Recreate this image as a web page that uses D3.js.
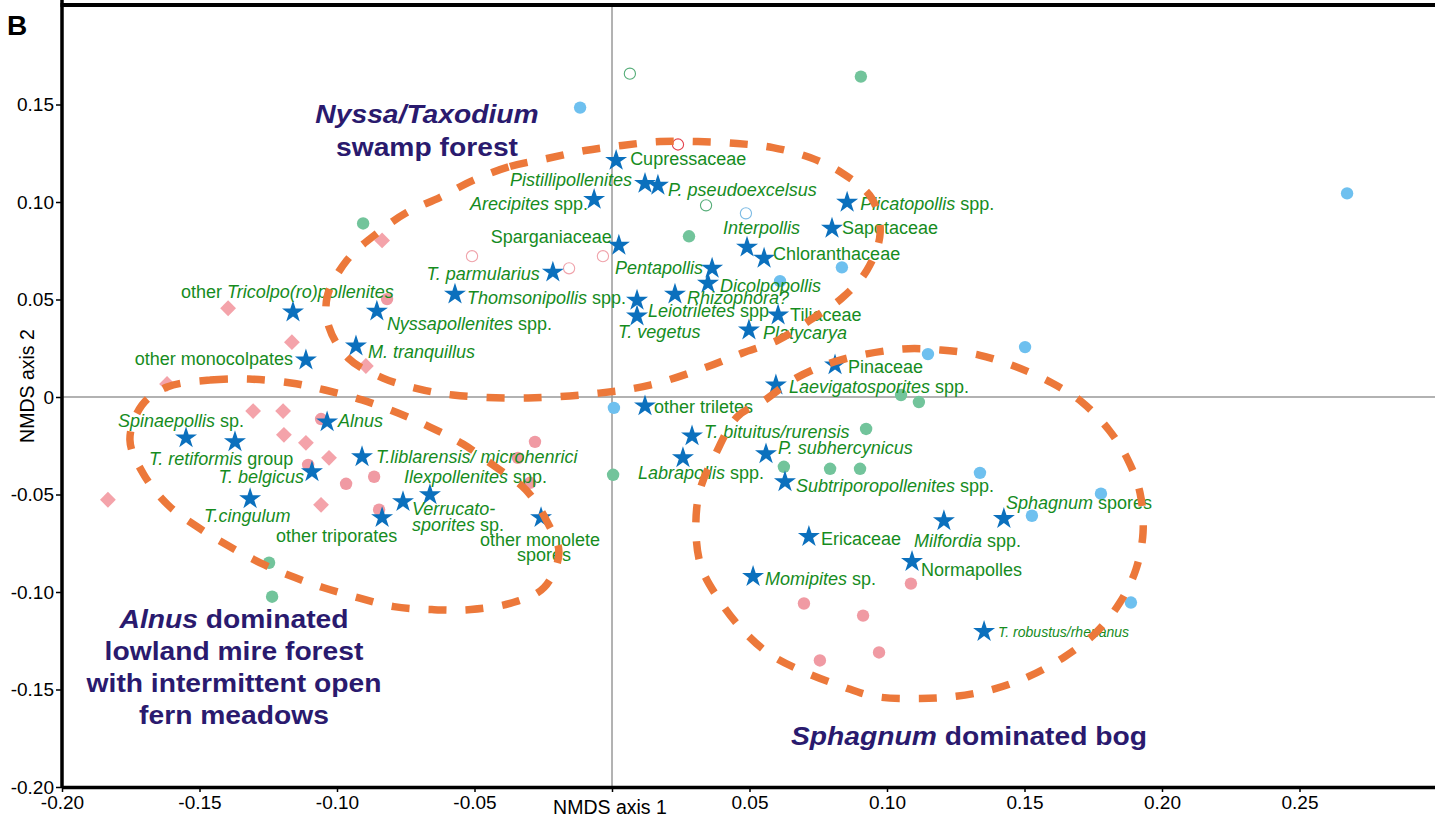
<!DOCTYPE html>
<html>
<head>
<meta charset="utf-8">
<script src="https://cdn.jsdelivr.net/npm/d3@7"></script>
<style>
body { margin: 0; background: #fff; }
svg { display: block; font-family: "Liberation Sans", Arial, sans-serif; }
</style>
</head>
<body>
<svg id="svg" width="1435" height="823"></svg>
<script>
// taxa (stars) - NMDS scores
const taxonLabels = [
  "Cupressaceae", "<i>Pistillipollenites</i>", "<i>P. pseudoexcelsus</i>", "<i>Arecipites</i> spp.",
  "Sparganiaceae", "<i>T. parmularius</i>", "<i>Thomsonipollis</i> spp.", "<i>Nyssapollenites</i> spp.",
  "other <i>Tricolpo(ro)pollenites</i>", "<i>M. tranquillus</i>", "other monocolpates", "<i>Leiotriletes</i> spp",
  "<i>T. vegetus</i>", "<i>Rhizophora?</i>", "<i>Pentapollis</i>", "<i>Dicolpopollis</i>",
  "<i>Interpollis</i>", "Chloranthaceae", "<i>Plicatopollis</i> spp.", "Sapotaceae",
  "Tiliaceae", "<i>Platycarya</i>", "Pinaceae", "<i>Laevigatosporites</i> spp.",
  "other triletes", "<i>T. bituitus/rurensis</i>", "<i>Labrapollis</i> spp.", "<i>P. subhercynicus</i>",
  "<i>Subtriporopollenites</i> spp.", "<i>Sphagnum</i> spores", "<i>Milfordia</i> spp.", "Ericaceae",
  "Normapolles", "<i>Momipites</i> sp.", "<i>T. robustus/rhenanus</i>", "<i>Alnus</i>",
  "<i>Spinaepollis</i> sp.", "<i>T. retiformis</i> group", "<i>T. belgicus</i>", "<i>T.liblarensis/ microhenrici</i>",
  "<i>T.cingulum</i>", "other triporates", "<i>Verrucato-</i>|<i>sporites</i> sp.", "<i>Ilexpollenites</i> spp.",
  "other monolete|spores"
];
const taxonX = [
  0.0015, 0.0120, 0.0167, -0.0065, 0.0025, -0.0215, -0.0571, -0.0855,
  -0.1160, -0.0931, -0.1113, 0.0091, 0.0091, 0.0229, 0.0364, 0.0349,
  0.0491, 0.0553, 0.0855, 0.0800, 0.0604, 0.0498, 0.0811, 0.0596,
  0.0120, 0.0291, 0.0258, 0.0560, 0.0629, 0.1425, 0.1207, 0.0716,
  0.1091, 0.0513, 0.1353, -0.1036, -0.1549, -0.1371, -0.1091, -0.0909,
  -0.1316, -0.0836, -0.0760, -0.0662, -0.0258
];
const taxonY = [
  0.1213, 0.1095, 0.1085, 0.1013, 0.0778, 0.0640, 0.0527, 0.0440,
  0.0435, 0.0261, 0.0189, 0.0496, 0.0415, 0.0527, 0.0660, 0.0583,
  0.0768, 0.0711, 0.0998, 0.0865, 0.0420, 0.0343, 0.0164, 0.0061,
  -0.0046, -0.0200, -0.0312, -0.0292, -0.0435, -0.0624, -0.0635, -0.0716,
  -0.0844, -0.0921, -0.1203, -0.0128, -0.0210, -0.0230, -0.0384, -0.0307,
  -0.0522, -0.0619, -0.0537, -0.0502, -0.0619
];

// samples
const pinkDiamonds = [[-0.1396,0.0455],[-0.1164,0.0281],[-0.0895,0.0159],[-0.1618,0.0067],[-0.1305,-0.0072],
  [-0.1196,-0.0072],[-0.1193,-0.0194],[-0.1113,-0.0235],[-0.1029,-0.0312],[-0.1833,-0.0527],[-0.1058,-0.0553],[-0.0836,0.0803]];
const pinkDots = [[-0.1058,-0.0113],[-0.1105,-0.0348],[-0.0967,-0.0445],[-0.0865,-0.0409],[-0.0818,0.0502],
  [-0.0280,-0.0230],[-0.0342,-0.0312],[-0.0298,-0.0440],[-0.0847,-0.0578],[0.1087,-0.0957],[0.0698,-0.1059],
  [0.0913,-0.1121],[0.0971,-0.1310],[0.0756,-0.1351]];
const greenDots = [[-0.0905,0.0890],[0.0905,0.1643],[0.0280,0.0824],[0.1051,0.0010],[0.1116,-0.0026],[0.0924,-0.0164],
  [0.0625,-0.0358],[0.0793,-0.0368],[0.0902,-0.0368],[0.0004,-0.0399],[-0.1247,-0.0850],[-0.1236,-0.1024]];
const blueDots = [[-0.0116,0.1484],[0.2673,0.1044],[0.0836,0.0665],[0.0611,0.0594],[0.1149,0.0220],[0.1502,0.0256],
  [0.0007,-0.0056],[0.1338,-0.0389],[0.1778,-0.0496],[0.1527,-0.0609],[0.1887,-0.1054]];
const openPink = [[-0.0509,0.0722],[-0.0033,0.0722],[-0.0156,0.0660]];
const openRed = [[0.0240,0.1295]];
const openGreen = [[0.0065,0.1658],[0.0342,0.0983]];
const openBlue = [[0.0487,0.0942]];

// hand drawn group outlines
const nyssaOutline = [[-0.0505,0.1111],[-0.0371,0.1182],[-0.0236,0.1223],[-0.0098,0.1264],[0.0036,0.1290],[0.0175,0.1310],
  [0.0313,0.1310],[0.0455,0.1300],[0.0585,0.1279],[0.0720,0.1228],[0.0840,0.1146],[0.0945,0.1018],[0.0975,0.0839],
  [0.0927,0.0650],[0.0836,0.0507],[0.0720,0.0394],[0.0604,0.0292],[0.0473,0.0225],[0.0345,0.0154],[0.0138,0.0061],
  [-0.0047,0.0020],[-0.0305,-0.0005],[-0.0578,0.0010],[-0.0716,0.0046],[-0.0833,0.0097],[-0.0960,0.0200],
  [-0.1029,0.0358],[-0.1036,0.0512],[-0.0964,0.0701],[-0.0855,0.0839],[-0.0745,0.0947],[-0.0625,0.1024]];
const alnusOutline = [[-0.1618,0.0051],[-0.1462,0.0087],[-0.1320,0.0092],[-0.1167,0.0072],[-0.1044,0.0036],[-0.0909,-0.0015],
  [-0.0778,-0.0082],[-0.0662,-0.0154],[-0.0542,-0.0241],[-0.0429,-0.0353],[-0.0313,-0.0476],[-0.0236,-0.0640],
  [-0.0193,-0.0798],[-0.0247,-0.0977],[-0.0360,-0.1054],[-0.0513,-0.1090],[-0.0655,-0.1090],[-0.0793,-0.1075],
  [-0.0924,-0.1029],[-0.1051,-0.0977],[-0.1153,-0.0926],[-0.1265,-0.0860],[-0.1389,-0.0768],[-0.1509,-0.0665],
  [-0.1615,-0.0553],[-0.1702,-0.0399],[-0.1753,-0.0220],[-0.1709,-0.0041]];
const sphagnumOutline = [[0.0556,-0.0015],[0.0669,0.0097],[0.0829,0.0189],[0.1055,0.0246],[0.1196,0.0241],[0.1335,0.0215],
  [0.1462,0.0159],[0.1600,0.0072],[0.1709,-0.0026],[0.1807,-0.0169],[0.1876,-0.0322],[0.1920,-0.0491],[0.1931,-0.0696],
  [0.1905,-0.0885],[0.1847,-0.1054],[0.1760,-0.1208],[0.1647,-0.1331],[0.1516,-0.1433],[0.1385,-0.1499],[0.1251,-0.1535],
  [0.1120,-0.1546],[0.0953,-0.1535],[0.0836,-0.1484],[0.0702,-0.1412],[0.0575,-0.1320],[0.0473,-0.1192],[0.0389,-0.1039],
  [0.0324,-0.0870],[0.0305,-0.0670],[0.0320,-0.0476],[0.0375,-0.0297],[0.0455,-0.0102]];

const xTicks = [-0.20, -0.15, -0.10, -0.05, 0, 0.05, 0.10, 0.15, 0.20, 0.25];
const yTicks = [-0.20, -0.15, -0.10, -0.05, 0, 0.05, 0.10, 0.15];

const regionTitles = [
  ["<i>Nyssa/Taxodium</i>", "swamp forest"],
  ["<i>Alnus</i> dominated", "lowland mire forest", "with intermittent open", "fern meadows"],
  ["<i>Sphagnum</i> dominated bog"]
];

// label placement in pixels relative to the star: dx, dy, anchor, [dx2, dy2]
var labelAt = {
  "Cupressaceae": [14,-2], "<i>Pistillipollenites</i>": [-13,-4,"end"], "<i>P. pseudoexcelsus</i>": [10,4],
  "<i>Arecipites</i> spp.": [-6,4,"end"], "Sparganiaceae": [-7,-9,"end"], "<i>T. parmularius</i>": [-13,1,"end"],
  "<i>Thomsonipollis</i> spp.": [12,3], "<i>Nyssapollenites</i> spp.": [10,12], "other <i>Tricolpo(ro)pollenites</i>": [-112,-20],
  "<i>M. tranquillus</i>": [12,6], "other monocolpates": [-13,-1,"end"], "<i>Leiotriletes</i> spp": [11,10],
  "<i>T. vegetus</i>": [-19,16], "<i>Rhizophora?</i>": [12,3], "<i>Pentapollis</i>": [-9,-1,"end"],
  "<i>Dicolpopollis</i>": [12,2], "<i>Interpollis</i>": [-24,-20], "Chloranthaceae": [9,-5],
  "<i>Plicatopollis</i> spp.": [13,1], "Sapotaceae": [10,-1], "Tiliaceae": [12,0], "<i>Platycarya</i>": [14,3],
  "Pinaceae": [13,2], "<i>Laevigatosporites</i> spp.": [13,2], "other triletes": [9,1],
  "<i>T. bituitus/rurensis</i>": [12,-4], "<i>Labrapollis</i> spp.": [-45,15], "<i>P. subhercynicus</i>": [12,-6],
  "<i>Subtriporopollenites</i> spp.": [11,4], "<i>Sphagnum</i> spores": [2,-16], "<i>Milfordia</i> spp.": [-30,20],
  "Ericaceae": [12,2], "Normapolles": [9,8], "<i>Momipites</i> sp.": [12,2], "<i>T. robustus/rhenanus</i>": [14,1],
  "<i>Alnus</i>": [11,-1], "<i>Spinaepollis</i> sp.": [-68,-17], "<i>T. retiformis</i> group": [-86,17],
  "<i>T. belgicus</i>": [-8,5,"end"], "<i>T.liblarensis/ microhenrici</i>": [14,0], "<i>T.cingulum</i>": [-46,17],
  "other triporates": [-106,18], "<i>Verrucato-</i>|<i>sporites</i> sp.": [9,7,"start",9,23],
  "<i>Ilexpollenites</i> spp.": [-26,-18], "other monolete|spores": [-61,22,"start",-24,37]
};
var titleAt = [[427,123,33],[234,628,32],[969,745,0]];

var svg = d3.select("#svg");

var x = d3.scaleLinear().domain([-0.2, 0.3]).range([62, 1437]);
var y = d3.scaleLinear().domain([-0.2, 0.2]).range([787, 7]);

function fmt(d) {
  if (Math.abs(d) < 1e-9) return "0";
  return (d < 0 ? "-" : "") + Math.abs(d).toFixed(2);
}

// writes "<i>..</i>" markup as tspans
function addRich(t, s) {
  s.split(/(<i>.*?<\/i>)/).forEach(function(part) {
    if (!part) return;
    var it = part.indexOf("<i>") === 0;
    t.append("tspan")
      .attr("font-style", it ? "italic" : null)
      .text(it ? part.slice(3, -4) : part);
  });
}

// zero lines
svg.append("line")
  .attr("x1", x(0)).attr("x2", x(0)).attr("y1", y(0.2)).attr("y2", y(-0.2))
  .attr("stroke", "#666").attr("stroke-width", 1);
svg.append("line")
  .attr("x1", x(-0.2)).attr("x2", 1435).attr("y1", y(0)).attr("y2", y(0))
  .attr("stroke", "#999").attr("stroke-width", 1.5);

// axes
var yAxis = svg.append("g").attr("transform", "translate(" + x(-0.2) + ",0)")
  .call(d3.axisLeft(y).tickValues(yTicks).tickSize(6).tickSizeOuter(0).tickFormat(fmt));
var xAxis = svg.append("g").attr("transform", "translate(0," + y(-0.2) + ")")
  .call(d3.axisBottom(x).tickValues(xTicks).tickSize(5).tickSizeOuter(0)
    .tickFormat(function(d) { return Math.abs(d) < 1e-9 ? "" : fmt(d); }));
[yAxis, xAxis].forEach(function(a) {
  a.select(".domain").attr("stroke", "#000").attr("stroke-width", 3.5);
  a.selectAll(".tick line").attr("stroke", "#000").attr("stroke-width", 1.5);
  a.selectAll(".tick text").attr("fill", "#000").attr("font-size", "19px")
    .attr("font-family", "Liberation Sans, Arial, sans-serif");
});
yAxis.selectAll(".tick text").attr("x", -8);
xAxis.selectAll(".tick text").attr("y", 9);
yAxis.select(".domain").attr("d", "M0,0V" + y(-0.2));

// top border
svg.append("line")
  .attr("x1", x(-0.2) - 1.5).attr("x2", 1435).attr("y1", 5).attr("y2", 5)
  .attr("stroke", "#000").attr("stroke-width", 4);

svg.append("text").attr("x", 7).attr("y", 35)
  .attr("font-size", "28px").attr("font-weight", "bold").text("B");

svg.append("text").attr("x", 610).attr("y", 814).attr("text-anchor", "middle")
  .attr("font-size", "19.5px").text("NMDS axis 1");
svg.append("text").attr("transform", "translate(34,386) rotate(-90)").attr("text-anchor", "middle")
  .attr("font-size", "19.5px").text("NMDS axis 2");

// sample points
function dots(data, fill, stroke) {
  svg.append("g").selectAll("circle")
    .data(data).enter().append("circle")
    .attr("cx", function(d) { return x(d[0]); })
    .attr("cy", function(d) { return y(d[1]); })
    .attr("r", stroke ? 5.6 : 6.2)
    .attr("fill", fill)
    .attr("stroke", stroke || "none")
    .attr("stroke-width", 1.1);
}
dots(greenDots, "#72c49b");
dots(blueDots, "#6ec0ef");
dots(pinkDots, "#f09aa3");
dots(openPink, "#fff", "#f0a3ab");
dots(openRed, "#fff", "#e4434d");
dots(openGreen, "#fff", "#55ad78");
dots(openBlue, "#fff", "#7dbbe4");

svg.append("g").selectAll("path")
  .data(pinkDiamonds).enter().append("path")
  .attr("d", d3.symbol().type(d3.symbolSquare).size(125))
  .attr("transform", function(d) { return "translate(" + x(d[0]) + "," + y(d[1]) + ") rotate(45)"; })
  .attr("fill", "#f4a3aa");

// taxa stars
var taxa = taxonLabels.map(function(l, i) { return {label: l, x: taxonX[i], y: taxonY[i]}; });

svg.append("g").selectAll("path")
  .data(taxa).enter().append("path")
  .attr("d", d3.symbol().type(d3.symbolStar).size(150))
  .attr("transform", function(d) { return "translate(" + x(d.x) + "," + y(d.y) + ")"; })
  .attr("fill", "#0b70bd");

var labels = svg.append("g").attr("fill", "#168c1e");
taxa.forEach(function(d) {
  var p = labelAt[d.label] || [10, 0];
  var lines = d.label.split("|");
  lines.forEach(function(line, k) {
    var dx = k === 0 ? p[0] : p[3], dy = k === 0 ? p[1] : p[4];
    var t = labels.append("text")
      .attr("x", x(d.x) + dx)
      .attr("y", y(d.y) + dy)
      .attr("dy", "0.35em")
      .attr("text-anchor", p[2] || "start")
      .attr("font-size", d.label.indexOf("robustus") >= 0 ? "14px" : "18px");
    addRich(t, line);
  });
});

// group outlines
var outline = d3.line()
  .x(function(d) { return x(d[0]); })
  .y(function(d) { return y(d[1]); })
  .curve(d3.curveCatmullRomClosed);
svg.append("g").selectAll("path")
  .data([nyssaOutline, alnusOutline, sphagnumOutline]).enter().append("path")
  .attr("d", outline)
  .attr("fill", "none")
  .attr("stroke", "#ec783a")
  .attr("stroke-width", 7.5)
  .attr("stroke-dasharray", "18,19");

// region titles
regionTitles.forEach(function(lines, i) {
  var p = titleAt[i];
  lines.forEach(function(line, k) {
    var t = svg.append("text")
      .attr("transform", "translate(" + p[0] + "," + (p[1] + k * p[2]) + ") scale(1.13,1)")
      .attr("text-anchor", "middle")
      .attr("font-size", "25px")
      .attr("font-weight", "bold")
      .attr("fill", "#2a1a6e");
    addRich(t, line);
  });
});
</script>
</body>
</html>
